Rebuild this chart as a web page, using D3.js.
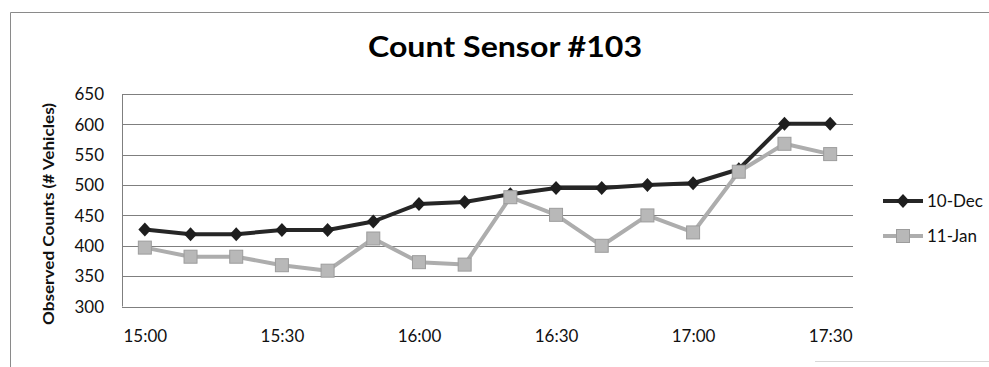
<!DOCTYPE html>
<html>
<head>
<meta charset="utf-8">
<script src="https://cdn.jsdelivr.net/npm/d3@7"></script>
<style>
  body { margin: 0; background: #fff; }
  svg { display: block; }
  .tick text { font-family: Lato, "Open Sans", sans-serif; font-size: 17px; fill: #111; }
</style>
</head>
<body>
<script>
// chart values
const times = ["15:00", "15:10", "15:20", "15:30", "15:40", "15:50",
               "16:00", "16:10", "16:20", "16:30", "16:40", "16:50",
               "17:00", "17:10", "17:20", "17:30"];
const dec10 = [427, 419, 419, 426, 426, 440, 469, 472, 485, 495, 495, 500, 503, 526, 601, 601];
const jan11 = [397, 382, 382, 368, 359, 412, 373, 369, 480, 451, 400, 450, 422, 522, 568, 551];
const yTicks = [300, 350, 400, 450, 500, 550, 600, 650];
const xLabels = ["15:00", "15:30", "16:00", "16:30", "17:00", "17:30"];
const seriesNames = ["10-Dec", "11-Jan"];

const W = 989, H = 367;
const svg = d3.select("body").append("svg").attr("width", W).attr("height", H);

// outer frame (cut off at the bottom / right like the reference)
svg.append("path")
  .attr("d", `M10.5,${H} V12.5 H${W}`)
  .attr("fill", "none").attr("stroke", "#8a8a8a").attr("stroke-width", 1);
svg.append("line")
  .attr("x1", 815).attr("x2", W).attr("y1", 361.5).attr("y2", 361.5)
  .attr("stroke", "#d8d8d8");

const x = d3.scalePoint().domain(times).range([122, 853]).padding(0.5);
const y = d3.scaleLinear().domain([300, 650]).range([306.5, 94]);

// gridlines
svg.append("g").selectAll("line").data(yTicks).join("line")
  .attr("x1", 122).attr("x2", 853)
  .attr("y1", d => Math.round(y(d)) + 0.5).attr("y2", d => Math.round(y(d)) + 0.5)
  .attr("stroke", "#7f7f7f").attr("stroke-width", 1);
svg.append("line")
  .attr("x1", 122.5).attr("x2", 122.5).attr("y1", y(650)).attr("y2", y(300))
  .attr("stroke", "#7f7f7f");

// y axis
const yAxis = svg.append("g").attr("transform", "translate(110,0)")
  .call(d3.axisLeft(y).tickValues(yTicks).tickSize(0).tickPadding(6));
yAxis.select(".domain").remove();
yAxis.selectAll("text").attr("dy", "0.34em");

// x axis
const xAxis = svg.append("g").attr("transform", "translate(0,324)")
  .call(d3.axisBottom(x).tickValues(xLabels).tickSize(0).tickPadding(6));
xAxis.select(".domain").remove();

// titles
svg.append("text")
  .attr("x", 505).attr("y", 57)
  .attr("text-anchor", "middle")
  .attr("font-family", "Lato, sans-serif").attr("font-weight", "bold")
  .attr("font-size", 29).attr("fill", "#000")
  .attr("textLength", 274).attr("lengthAdjust", "spacingAndGlyphs")
  .text("Count Sensor #103");

svg.append("text")
  .attr("transform", "translate(54,214) rotate(-90)")
  .attr("text-anchor", "middle")
  .attr("font-family", "Lato, sans-serif").attr("font-weight", "bold")
  .attr("font-size", 15.5).attr("fill", "#111")
  .attr("textLength", 222).attr("lengthAdjust", "spacingAndGlyphs")
  .text("Observed Counts (# Vehicles)");

const line = d3.line().x((d, i) => x(times[i])).y(d => y(d));
const diamond = "M0,-7L6.5,0L0,7L-6.5,0Z";
const sq = 13;

// 10-Dec series
svg.append("path").datum(dec10)
  .attr("d", line).attr("fill", "none")
  .attr("stroke", "#262626").attr("stroke-width", 4).attr("stroke-linejoin", "round");
svg.append("g").selectAll("path").data(dec10).join("path")
  .attr("transform", (d, i) => `translate(${x(times[i])},${y(d)})`)
  .attr("d", diamond).attr("fill", "#1e1e1e");

// 11-Jan series
svg.append("path").datum(jan11)
  .attr("d", line).attr("fill", "none")
  .attr("stroke", "#adadad").attr("stroke-width", 4).attr("stroke-linejoin", "round");
svg.append("g").selectAll("rect").data(jan11).join("rect")
  .attr("x", (d, i) => x(times[i]) - sq / 2).attr("y", d => y(d) - sq / 2)
  .attr("width", sq).attr("height", sq)
  .attr("fill", "#b8b8b8").attr("stroke", "#9c9c9c").attr("stroke-width", 1);

// legend
const legend = svg.append("g");
const ly = [201, 236];
seriesNames.forEach((name, i) => {
  const g = legend.append("g").attr("transform", `translate(0,${ly[i]})`);
  g.append("line").attr("x1", 883).attr("x2", 923)
    .attr("stroke", i === 0 ? "#262626" : "#adadad").attr("stroke-width", 4);
  if (i === 0) {
    g.append("path").attr("transform", "translate(903,0)").attr("d", diamond).attr("fill", "#1e1e1e");
  } else {
    g.append("rect").attr("x", 903 - sq / 2).attr("y", -sq / 2).attr("width", sq).attr("height", sq)
      .attr("fill", "#b8b8b8").attr("stroke", "#9c9c9c");
  }
  g.append("text").attr("x", 927).attr("dy", "0.35em")
    .attr("font-family", "Lato, sans-serif").attr("font-size", 17).attr("fill", "#111")
    .text(name);
});
</script>
</body>
</html>
